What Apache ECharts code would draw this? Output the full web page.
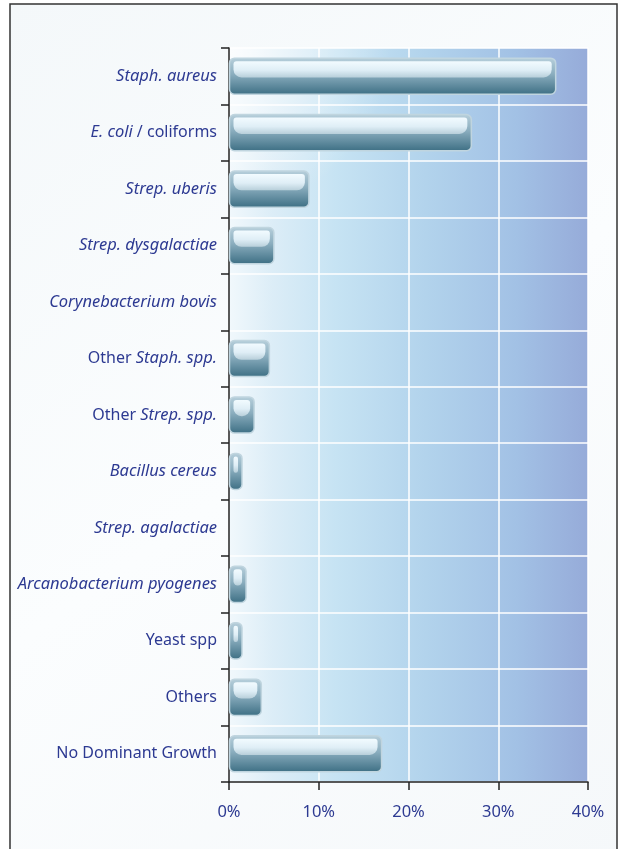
<!DOCTYPE html>
<html>
<head>
<meta charset="utf-8">
<script src="https://cdn.jsdelivr.net/npm/echarts@6/dist/echarts.min.js"></script>
<style>
html,body{margin:0;padding:0;background:#fff;}
#c{width:619px;height:849px;}
</style>
</head>
<body>
<div id="c"></div>
<script>
// ---- data ----
const categories = ['Staph. aureus','E. coli / coliforms','Strep. uberis','Strep. dysgalactiae','Corynebacterium bovis','Other Staph. spp.','Other Strep. spp.','Bacillus cereus','Strep. agalactiae','Arcanobacterium pyogenes','Yeast spp','Others','No Dominant Growth'];
const values = [36.4, 27.0, 8.9, 5.0, 0, 4.5, 2.8, 1.45, 0, 1.9, 1.45, 3.6, 17.0];
const xTicks = [0, 10, 20, 30, 40];
// italic (species) part of each label
const italicParts = ['Staph. aureus','E. coli','Strep. uberis','Strep. dysgalactiae','Corynebacterium bovis','Staph. spp.','Strep. spp.','Bacillus cereus','Strep. agalactiae','Arcanobacterium pyogenes','','',''];

const TXT = '#2d3a92';
function richLabel(name) {
  const idx = categories.indexOf(name);
  const it = italicParts[idx];
  if (!it) return '{n|' + name + '}';
  const p = name.indexOf(it);
  let s = '';
  if (p > 0) s += '{n|' + name.slice(0, p) + '}';
  s += '{i|' + it + '}';
  const rest = name.slice(p + it.length);
  if (rest) s += '{n|' + rest + '}';
  return s;
}

const chart = echarts.init(document.getElementById('c'), null, {renderer: 'canvas'});
const G = {left: 229, right: 31, top: 48, bottom: 67};

function renderBar(params, api) {
  const v = api.value(0);
  const cat = api.value(1);
  if (!(v > 0)) return null;
  const s = api.coord([0, cat]);
  const e = api.coord([v, cat]);
  const band = api.size([0, 1])[1];
  const h = band * 0.64;
  const x = s[0] + 0.5;
  const w = Math.max(e[0] - s[0] - 0.5, 6);
  const y = s[1] - h / 2;
  const hlW = Math.max(w - 8, 2);
  return {
    type: 'group',
    children: [
      {
        type: 'rect',
        shape: {x: x, y: y, width: w, height: h, r: 5},
        style: {
          fill: new echarts.graphic.LinearGradient(0, 0, 0, 1, [
            {offset: 0, color: '#b8d0dc'},
            {offset: 0.45, color: '#8aadbe'},
            {offset: 1, color: '#3c6e83'}
          ]),
          stroke: '#c0d5df',
          lineWidth: 1.5
        }
      },
      {
        type: 'rect',
        shape: {x: x + 4, y: y + 3, width: hlW, height: h * 0.45, r: [3, 3, 8, 8]},
        style: {
          fill: new echarts.graphic.LinearGradient(0, 0, 0, 1, [
            {offset: 0, color: '#f2fbff'},
            {offset: 0.55, color: '#dfeef6'},
            {offset: 1, color: '#b8cfda'}
          ])
        }
      }
    ]
  };
}

const option = {
  backgroundColor: '#ffffff',
  animation: false,
  graphic: [
    {
      type: 'rect', z: -10,
      shape: {x: 10, y: 4, width: 607, height: 860},
      style: {
        fill: new echarts.graphic.LinearGradient(0, 0, 1, 1, [
          {offset: 0, color: '#f4f8fa'},
          {offset: 0.5, color: '#fbfdfe'},
          {offset: 1, color: '#f5f8fa'}
        ]),
        stroke: '#333', lineWidth: 1.5
      }
    },
    {
      type: 'rect', z: 0, silent: true,
      shape: {x: G.left, y: G.top, width: 619 - G.left - G.right, height: 849 - G.top - G.bottom},
      style: {
        fill: new echarts.graphic.RadialGradient(0, 0, 0.45, [
          {offset: 0, color: 'rgba(255,255,255,0.75)'},
          {offset: 1, color: 'rgba(255,255,255,0)'}
        ])
      }
    }
  ],
  grid: {
    left: G.left, right: G.right, top: G.top, bottom: G.bottom,
    show: true,
    borderWidth: 0,
    backgroundColor: new echarts.graphic.LinearGradient(0, 0, 1, 0, [
      {offset: 0, color: '#f1f8fc'},
      {offset: 0.12, color: '#dcedf7'},
      {offset: 0.3, color: '#c6e3f3'},
      {offset: 0.55, color: '#b2d3ec'},
      {offset: 0.8, color: '#a2c1e5'},
      {offset: 1, color: '#96abd9'}
    ])
  },
  xAxis: {
    type: 'value',
    min: xTicks[0], max: xTicks[xTicks.length - 1], interval: 10,
    axisLine: {show: true, lineStyle: {color: '#222', width: 1.5}},
    axisTick: {show: true, length: 8, lineStyle: {color: '#222', width: 1.5}},
    splitLine: {show: true, lineStyle: {color: '#ffffff', width: 1.5}},
    axisLabel: {
      color: TXT, fontSize: 16.5, margin: 22,
      fontFamily: 'Noto Sans',
      formatter: v => v + '%'
    }
  },
  yAxis: {
    type: 'category',
    inverse: true,
    data: categories,
    axisLine: {show: true, lineStyle: {color: '#222', width: 1.5}},
    axisTick: {show: true, length: 8, lineStyle: {color: '#222', width: 1.5}},
    splitLine: {show: true, lineStyle: {color: '#ffffff', width: 1.5}},
    axisLabel: {
      margin: 12,
      formatter: richLabel,
      rich: {
        i: {color: TXT, fontSize: 16.5, fontStyle: 'italic', fontFamily: 'Noto Sans'},
        n: {color: TXT, fontSize: 16, fontFamily: 'Noto Sans'}
      }
    }
  },
  series: [{
    type: 'custom',
    renderItem: renderBar,
    encode: {x: 0, y: 1},
    z: 5,
    data: values.map((v, i) => [v, i])
  }]
};
chart.setOption(option);
</script>
</body>
</html>
